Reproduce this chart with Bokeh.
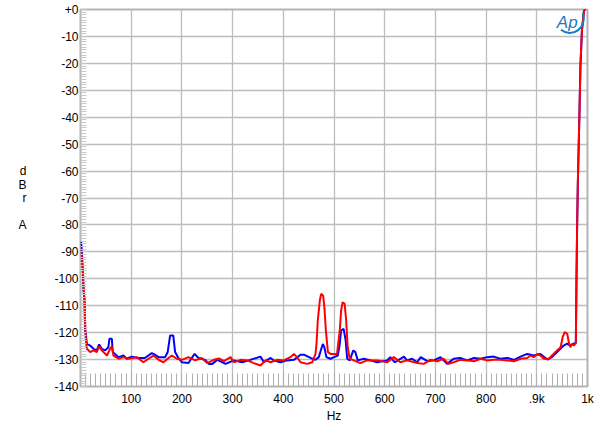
from bokeh.plotting import figure
from bokeh.models import Range1d, Label, FixedTicker
from bokeh.embed import file_html
from bokeh.resources import INLINE

# ---- data ----
blue_f = [1, 2, 4, 6, 8, 9, 10.5, 12.5, 19, 25.6, 32, 36.8, 42, 48.6, 55, 57, 61.8, 63.7, 68, 75,
          84.8, 91, 101, 114, 127, 140.6, 147, 154, 167, 172, 176.7, 183, 186.6, 193, 200, 213,
          219.5, 225, 232.6, 246, 253, 260, 270, 286, 302.5, 319, 335, 355, 361.6, 374.8, 381,
          394.5, 407.6, 420.8, 434, 440.5, 453.7, 463.5, 470, 475, 478, 481, 485, 493, 500, 507.5,
          511, 514, 519, 523, 526, 531, 538, 542, 547, 559, 572, 585, 605, 611, 620, 638, 644,
          654, 664, 671, 684, 697, 710, 723, 736, 749, 763, 776, 789, 802, 815, 828, 842, 855,
          868, 881, 894, 907, 914, 921, 930, 940, 953, 960, 966, 972, 977, 978, 979.5, 981, 984,
          986, 989, 993, 997, 1000]
blue_db = [-86.0, -88.3, -94.4, -104.3, -107.4, -119.2, -120.4, -124.2, -124.8, -126.0, -126.6,
           -124.4, -126.0, -126.6, -125.4, -122.3, -122.3, -127.2, -127.9, -129.1, -128.5, -129.7,
           -128.9, -129.4, -129.4, -127.6, -128.2, -129.1, -129.1, -127.2, -121.1, -121.1, -127.2,
           -129.4, -131.0, -131.3, -129.4, -127.9, -129.4, -130.1, -131.6, -131.6, -130.1, -131.6,
           -130.3, -131.0, -130.1, -128.9, -131.0, -129.4, -130.3, -131.0, -130.3, -130.1, -128.2,
           -128.2, -129.4, -130.1, -129.1, -126.0, -124.2, -125.4, -129.1, -129.7, -129.1, -128.5,
           -124.8, -119.2, -118.6, -122.9, -129.7, -130.3, -126.6, -127.2, -130.3, -129.7, -130.3,
           -131.0, -130.3, -129.1, -131.0, -128.9, -130.3, -129.7, -131.0, -129.1, -130.6, -130.3,
           -129.1, -131.6, -129.7, -129.4, -130.3, -129.4, -129.7, -129.1, -128.9, -129.7, -129.4,
           -130.1, -128.9, -127.9, -128.5, -127.9, -129.0, -130.0, -129.1, -127.2, -124.8, -124.1,
           -124.8, -124.1, -123.8, -105.0, -81.0, -64.0, -39.5, -21.5, -7.8, -0.5, 0.5, 1.0]

red_f = [1, 2.6, 4.6, 8, 10.5, 12.5, 19, 25.6, 32, 36.8, 42, 52, 58.5, 61.8, 65, 75, 85, 94.6,
         111, 124, 134, 144, 154, 163.6, 173.5, 180, 190, 200, 213, 226, 239, 250, 263, 273, 283,
         296, 302.5, 316, 329, 342, 355, 365, 375, 388, 401, 414, 421, 427, 434, 447, 457, 463.5,
         465.5, 468, 472, 474.6, 478.6, 481, 484, 488, 493, 506, 511.4, 514, 517, 521, 524, 527,
         531, 539, 552, 565, 585, 605, 618, 631, 644, 664, 677, 690, 703, 716, 726, 736, 749, 763,
         776, 789, 802, 815, 828, 842, 855, 868, 881, 888, 894, 901, 907, 914, 924, 930, 940, 947,
         951, 955, 960, 963, 966, 970, 973, 977, 978, 979.5, 981, 984, 986, 989, 993, 997, 1000]
red_db = [-89.2, -93.2, -96.9, -110.5, -122.9, -126.0, -127.2, -126.6, -127.2, -125.1, -126.6,
          -128.5, -126.0, -125.1, -128.5, -129.7, -129.1, -129.7, -129.1, -131.0, -129.7, -128.5,
          -130.1, -131.0, -129.4, -128.5, -129.7, -130.1, -129.1, -130.3, -129.4, -131.3, -130.1,
          -129.6, -130.6, -129.1, -131.0, -130.1, -130.3, -131.3, -132.2, -130.3, -131.0, -130.1,
          -130.3, -129.1, -127.9, -129.1, -131.0, -131.6, -131.0, -127.9, -124.2, -115.5, -108.1,
          -105.6, -106.2, -110.5, -119.2, -127.2, -127.9, -127.9, -119.2, -111.8, -108.7, -109.3,
          -115.5, -125.4, -129.7, -130.3, -131.3, -130.3, -130.3, -131.0, -129.1, -131.0, -130.3,
          -131.3, -131.6, -130.1, -130.6, -129.7, -131.6, -131.0, -130.1, -130.3, -130.6, -129.7,
          -130.3, -130.1, -130.1, -130.3, -130.6, -129.7, -129.4, -128.5, -129.1, -127.9, -128.5,
          -129.7, -129.7, -128.5, -126.6, -125.4, -121.7, -119.8, -120.4, -123.5, -125.4, -124.1,
          -124.8, -123.8, -105.0, -81.0, -64.0, -39.5, -21.5, -7.8, -0.5, 0.5, 1.0]

x_ticks = [100, 200, 300, 400, 500, 600, 700, 800, 900, 1000]
x_tick_labels = ["100", "200", "300", "400", "500", "600", "700", "800", ".9k", "1k"]
y_ticks = [0, -10, -20, -30, -40, -50, -60, -70, -80, -90, -100, -110, -120, -130, -140]
y_tick_labels = ["+0", "-10", "-20", "-30", "-40", "-50", "-60", "-70", "-80", "-90", "-100",
                 "-110", "-120", "-130", "-140"]

FONT = "Liberation Sans"
GRID = "#bdbdbd"

p = figure(frame_width=507, frame_height=377, output_backend="svg", toolbar_location=None,
           x_range=Range1d(0, 1000), y_range=Range1d(-140, 0),
           min_border_left=80, min_border_right=13, min_border_top=9, min_border_bottom=45)
p.background_fill_color = "white"
p.border_fill_color = "white"
p.outline_line_color = "#b4b4b4"
p.outline_line_width = 2

# axes
p.xaxis.ticker = FixedTicker(ticks=x_ticks, minor_ticks=list(range(0, 1001, 10)))
p.xaxis.major_label_overrides = {t: l for t, l in zip(x_ticks, x_tick_labels)}
p.yaxis.ticker = FixedTicker(ticks=y_ticks, minor_ticks=list(range(-140, 1, 1)))
p.yaxis.major_label_overrides = {t: l for t, l in zip(y_ticks, y_tick_labels)}

for ax in (p.xaxis, p.yaxis):
    ax.axis_line_color = None
    ax.major_tick_out = 0
    ax.minor_tick_out = 0
    ax.major_label_text_font = FONT
    ax.major_label_text_font_size = "12px"
    ax.major_label_text_color = "black"
    ax.axis_label_text_font = FONT
    ax.axis_label_text_font_size = "12px"
    ax.axis_label_text_font_style = "normal"
    ax.axis_label_text_color = "black"

p.xaxis.major_tick_in = 13
p.xaxis.minor_tick_in = 13
p.xaxis.major_tick_line_color = "#b0b0b0"
p.xaxis.minor_tick_line_color = "#b0b0b0"
p.xaxis.major_label_standoff = 5
p.xaxis.axis_label = "Hz"
p.xaxis.axis_label_standoff = 0

p.yaxis.major_tick_in = 6
p.yaxis.minor_tick_in = 6
p.yaxis.major_tick_line_color = "#c8c8c8"
p.yaxis.minor_tick_line_color = "#c8c8c8"
p.yaxis.major_label_standoff = 2
p.yaxis.axis_label = "d\nB\nr\n\nA"
p.yaxis.axis_label_orientation = "horizontal"
p.yaxis.axis_label_standoff = 25
p.yaxis.axis_label_text_line_height = 0.95

p.xgrid.grid_line_color = GRID
p.ygrid.grid_line_color = GRID
p.xgrid.grid_line_width = 1.3
p.ygrid.grid_line_width = 1.3

# traces
p.line(blue_f, blue_db, line_color="#0000ff", line_width=2)
p.line(red_f, red_db, line_color="#ff0000", line_width=2)

# AP logo
p.add_layout(Label(x=960, y=-5, text="Ap", text_align="center", text_baseline="middle",
                   text_font=FONT, text_font_size="17px", text_font_style="italic",
                   text_color="#1f78c1"))
p.arc(x=[965], y=[-3.5], radius=14, radius_units="screen", start_angle=-2.25,
      end_angle=0.4, line_color="#1f78c1", line_width=2)

open("out.html", "w").write(file_html(p, INLINE))
